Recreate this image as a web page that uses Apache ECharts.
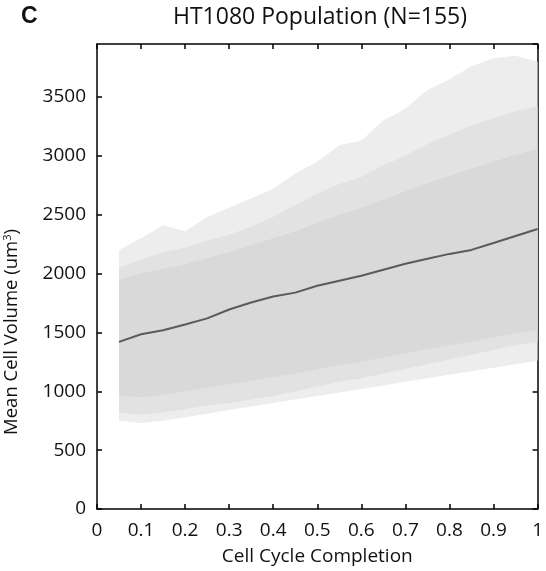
<!DOCTYPE html>
<html>
<head>
<meta charset="utf-8">
<script src="https://cdn.jsdelivr.net/npm/echarts@6/dist/echarts.min.js"></script>
<style>
html, body { margin: 0; padding: 0; background: #fff; }
#root { width: 546px; height: 571px; }
</style>
</head>
<body>
<div id="root"></div>
<script>
// cell cycle completion positions
var completion = [0.05, 0.1, 0.15, 0.2, 0.25, 0.3, 0.35, 0.4, 0.45, 0.5, 0.55, 0.6, 0.65, 0.7, 0.75, 0.8, 0.85, 0.9, 0.95, 1.0]
// population mean
var meanVolume = [1420, 1484, 1518, 1568, 1619, 1695, 1754, 1805, 1838, 1897, 1939, 1981, 2032, 2083, 2125, 2167, 2201, 2260, 2319, 2378]
// spread of the 155 single-cell traces (outer = sparse edge, mid, core = densest)
var outerUpper = [2200, 2300, 2410, 2360, 2480, 2560, 2640, 2720, 2850, 2950, 3090, 3130, 3300, 3400, 3560, 3650, 3760, 3830, 3850, 3800]
var midUpper = [2050, 2120, 2180, 2220, 2280, 2330, 2400, 2480, 2580, 2680, 2760, 2820, 2920, 3000, 3100, 3180, 3260, 3320, 3380, 3420]
var coreUpper = [1950, 2000, 2040, 2080, 2130, 2180, 2240, 2300, 2360, 2430, 2500, 2560, 2630, 2700, 2770, 2830, 2890, 2950, 3010, 3060]
var coreLower = [960, 950, 970, 1000, 1030, 1060, 1090, 1120, 1150, 1190, 1220, 1250, 1290, 1320, 1360, 1390, 1420, 1460, 1490, 1520]
var midLower = [820, 800, 820, 850, 880, 900, 930, 960, 1000, 1040, 1080, 1110, 1150, 1190, 1230, 1270, 1310, 1350, 1390, 1420]
var outerLower = [750, 730, 750, 780, 810, 840, 870, 900, 930, 960, 990, 1020, 1050, 1080, 1110, 1140, 1170, 1200, 1230, 1260]
var xTicks = ['0', '0.1', '0.2', '0.3', '0.4', '0.5', '0.6', '0.7', '0.8', '0.9', '1']

var pairs = (vals) => completion.map((x, i) => [x, vals[i]])

// band between two envelopes, drawn through the grid's own coord system
var band = (upper, lower, color) => ({
	type: 'custom',
	coordinateSystem: 'cartesian2d',
	silent: true,
	z: 2,
	data: [[completion[0], lower[0]]],
	renderItem: (params, api) => {
		const top = completion.map((x, i) => api.coord([x, upper[i]]))
		const bottom = completion.map((x, i) => api.coord([x, lower[i]])).reverse()
		return { type: 'polygon', shape: { points: top.concat(bottom) }, style: { fill: color } }
	}
})

var font = '"Open Sans", "Noto Sans", sans-serif'
var chart = echarts.init(document.getElementById('root'))

var axisCommon = {
	axisLine: { show: true, onZero: false, lineStyle: { color: '#000', width: 1.5 } },
	axisTick: { show: true, inside: true, length: 5, lineStyle: { color: '#000', width: 1.5 } },
	splitLine: { show: false }
}

var option = {
	animation: false,
	backgroundColor: '#fff',
	textStyle: { fontFamily: font },
	title: {
		text: 'HT1080 Population (N=155)',
		left: 315, top: 1, textAlign: 'center',
		textStyle: { fontFamily: font, fontSize: 23, fontWeight: 'normal', color: '#111' }
	},
	graphic: [{
		type: 'text', left: 21, top: 5,
		style: { text: 'C', font: 'bold 23px "Liberation Sans", Arial, sans-serif', fill: '#111' }
	}, {
		type: 'text', x: 12, y: 332, rotation: Math.PI / 2,
		style: {
			text: 'Mean Cell Volume (um{sup|3})', align: 'center', verticalAlign: 'middle',
			fontFamily: font, fontSize: 18.5, fill: '#111',
			rich: { sup: { fontFamily: font, fontSize: 11, fill: '#111', padding: [0, 0, 9, 0] } }
		}
	}],
	grid: { left: 97, right: 2, top: 44, bottom: 60 },
	xAxis: [
		Object.assign({}, axisCommon, {
			type: 'value', position: 'bottom', min: 0, max: 1, interval: 0.1,
			name: 'Cell Cycle Completion', nameLocation: 'middle', nameGap: 38,
			nameTextStyle: { fontFamily: font, fontSize: 19, color: '#111' },
			axisLabel: {
				margin: 12, fontFamily: font, fontSize: 19, color: '#111',
				formatter: (v) => xTicks[Math.round(v * 10)]
			}
		}),
		Object.assign({}, axisCommon, {
			type: 'value', position: 'top', min: 0, max: 1, interval: 0.1,
			axisLabel: { show: false }
		})
	],
	yAxis: [
		Object.assign({}, axisCommon, {
			type: 'value', position: 'left', min: 0, max: 3950, interval: 500,
			axisLabel: { margin: 11, fontFamily: font, fontSize: 19, color: '#111', showMaxLabel: false, formatter: (v) => String(v) }
		}),
		Object.assign({}, axisCommon, {
			type: 'value', position: 'right', min: 0, max: 3950, interval: 500,
			axisLabel: { show: false }
		})
	],
	series: [
		band(outerUpper, outerLower, '#ededed'),
		band(midUpper, midLower, '#e2e2e2'),
		band(coreUpper, coreLower, '#d9d9d9'),
		{ type: 'line', name: 'mean', data: pairs(meanVolume), symbol: 'none',
			lineStyle: { color: '#5a5a5a', width: 2 }, z: 5 }
	]
}
chart.setOption(option)
</script>
</body>
</html>
